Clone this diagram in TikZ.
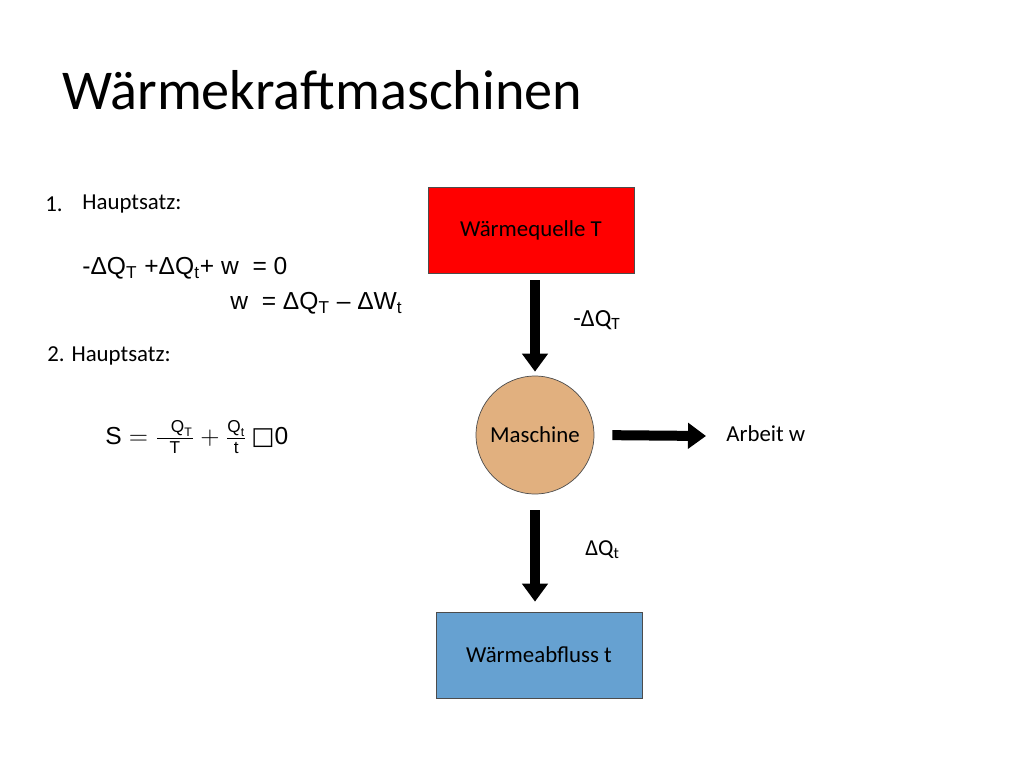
\documentclass[tikz,border=0pt]{standalone}
\usepackage{amsmath}
\usepackage{fontspec}
\setmainfont{Carlito}
\newfontfamily\formfont{Liberation Sans}
\newfontfamily\symfont{DejaVu Sans}
\usetikzlibrary{arrows.meta,positioning}

\begin{document}
\begin{tikzpicture}[x=0.02cm,y=-0.02cm,
    every node/.style={font=\fontsize{13}{15}\selectfont, inner sep=0pt},
    box/.style={draw=black!70, minimum width=4.12cm, minimum height=1.72cm},
    flow/.style={line width=0.2cm, -{Triangle[width=0.5cm,length=0.36cm]}},
    formula/.style={font=\formfont\fontsize{14}{16}\selectfont, anchor=west}
]
\useasboundingbox (0,0) rectangle (1024,768);

% title
\node[anchor=west, font=\fontsize{32}{36}\selectfont] (title) at (62,90) {Wärmekraftmaschinen};

% left column
\node[anchor=west] (num1) at (45,204) {1.};
\node[anchor=west] (hs1) at (82,204) {Hauptsatz:};
\node[formula] (eq1) at (82,268) {-ΔQ\textsubscript{T} +ΔQ\textsubscript{t}+ w \ = 0};
\node[formula] (eq2) at (230,303) {w \ = ΔQ\textsubscript{T} – ΔW\textsubscript{t}};
\node[anchor=west] (hs2) at (47,356) {2. Hauptsatz:};
\node[formula] (eq3) at (105,437) {$\text{S} = \frac{\ \ \text{Q}_{\text{T}}}{\text{T}} + \frac{\text{Q}_{\text{t}}}{\text{t}}\,\text{{\symfont□}0}$};

% diagram
\node[box, fill=red] (src) at (531,230) {Wärmequelle T};
\node[circle, draw=black!70, fill=brown!55!white!85!orange, minimum size=2.36cm] (mach) at (535,435) {Maschine};
\node[box, fill=blue!45!cyan!70!black!60!white] (sink) at (539,655) {Wärmeabfluss t};
\node[anchor=west] (work) at (726,434) {Arbeit w};
\coordinate (workend) at (706,436);

\draw[flow, shorten <=0.14cm, shorten >=0.08cm] (src.south -| mach) -- (mach);
\draw[flow, shorten <=0.32cm, shorten >=0.2cm] (mach) -- (sink.north -| mach);
\draw[flow, shorten <=0.36cm] (mach.east) -- (workend);

\node[anchor=west, font=\fontsize{14}{16}\selectfont] (lblT) at (573,320) {-ΔQ\textsubscript{T}};
\node[anchor=west] (lblt) at (585,550) {ΔQ\textsubscript{t}};
\end{tikzpicture}
\end{document}
